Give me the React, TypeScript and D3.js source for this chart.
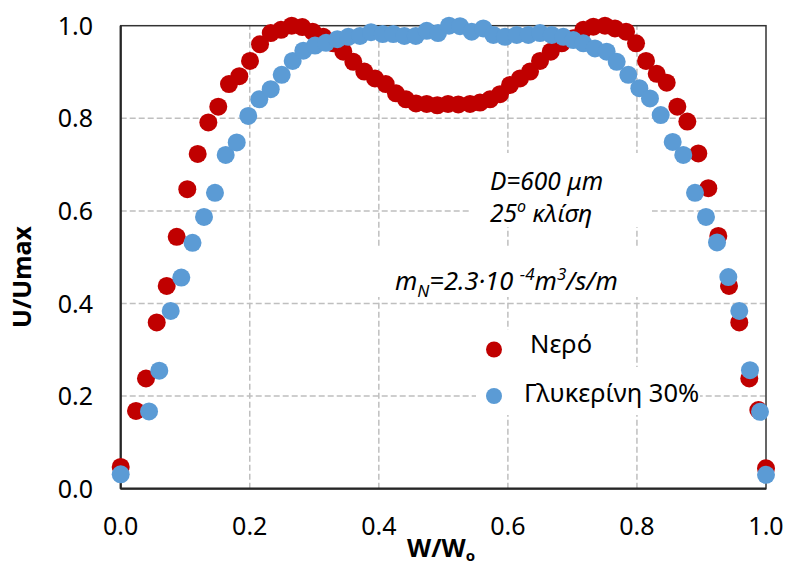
import React from "react";
import * as d3 from "d3";

const neroX = [0.000, 0.0237, 0.0392, 0.0558, 0.0713, 0.0868, 0.1032, 0.1193, 0.1358, 0.1512, 0.1678, 0.1838, 0.2004, 0.2159, 0.2325, 0.2484, 0.2650, 0.2814, 0.2975, 0.3140, 0.3295, 0.3450, 0.3605, 0.3775, 0.3941, 0.4107, 0.4266, 0.4421, 0.4576, 0.4742, 0.4906, 0.5072, 0.5232, 0.5413, 0.5568, 0.5723, 0.5878, 0.6033, 0.6188, 0.6343, 0.6498, 0.6664, 0.6834, 0.7014, 0.7169, 0.7324, 0.7505, 0.7660, 0.7831, 0.7986, 0.8141, 0.8306, 0.8461, 0.8626, 0.8781, 0.8951, 0.9106, 0.9261, 0.9427, 0.9586, 0.9741, 0.9881, 1.000];
const neroY = [0.047, 0.168, 0.238, 0.359, 0.438, 0.544, 0.647, 0.723, 0.791, 0.825, 0.874, 0.891, 0.924, 0.960, 0.984, 0.991, 1.000, 0.997, 0.987, 0.976, 0.962, 0.944, 0.922, 0.901, 0.886, 0.874, 0.854, 0.841, 0.832, 0.831, 0.828, 0.831, 0.830, 0.831, 0.834, 0.841, 0.852, 0.872, 0.886, 0.901, 0.924, 0.944, 0.962, 0.973, 0.991, 0.998, 1.000, 0.994, 0.987, 0.962, 0.924, 0.896, 0.877, 0.825, 0.793, 0.724, 0.649, 0.546, 0.438, 0.359, 0.238, 0.170, 0.044];

const glycX = [0.000, 0.0439, 0.0598, 0.0775, 0.0939, 0.1113, 0.1291, 0.1461, 0.1627, 0.1798, 0.1977, 0.2148, 0.2325, 0.2495, 0.2665, 0.2830, 0.3011, 0.3182, 0.3357, 0.3527, 0.3708, 0.3879, 0.4060, 0.4224, 0.4395, 0.4572, 0.4742, 0.4917, 0.5088, 0.5258, 0.5439, 0.5619, 0.5774, 0.5955, 0.6137, 0.6317, 0.6498, 0.6679, 0.6859, 0.7014, 0.7169, 0.7350, 0.7531, 0.7686, 0.7866, 0.8037, 0.8202, 0.8368, 0.8554, 0.8718, 0.8900, 0.9070, 0.9241, 0.9416, 0.9586, 0.9752, 0.9907, 1.000];
const glycY = [0.031, 0.167, 0.255, 0.384, 0.456, 0.531, 0.587, 0.639, 0.721, 0.748, 0.805, 0.841, 0.863, 0.894, 0.924, 0.946, 0.957, 0.963, 0.971, 0.976, 0.978, 0.986, 0.982, 0.982, 0.978, 0.978, 0.989, 0.984, 1.000, 0.999, 0.987, 0.994, 0.980, 0.976, 0.980, 0.980, 0.984, 0.980, 0.976, 0.969, 0.962, 0.951, 0.944, 0.922, 0.894, 0.865, 0.843, 0.807, 0.749, 0.721, 0.639, 0.587, 0.532, 0.457, 0.384, 0.256, 0.166, 0.030];

const xTicks = [0, 0.2, 0.4, 0.6, 0.8, 1.0];
const yTicks = [0, 0.2, 0.4, 0.6, 0.8, 1.0];
const seriesNames = ["Νερό", "Γλυκερίνη 30%"];
const seriesColors = ["#C00000", "#5B9BD5"];

const FONT = "'Noto Sans', 'Open Sans', sans-serif";

export default function App() {
  const x = d3.scaleLinear().domain([0, 1]).range([120.7, 766]);
  const y = d3.scaleLinear().domain([0, 1]).range([488.7, 25.7]);
  const fmt = d3.format(".1f");
  const series = [
    { name: seriesNames[0], color: seriesColors[0], xs: neroX, ys: neroY },
    { name: seriesNames[1], color: seriesColors[1], xs: glycX, ys: glycY },
  ];
  const gridX = xTicks.filter((t) => t > 0 && t < 1);
  const gridY = yTicks.filter((t) => t > 0 && t < 1);
  const r = 9;
  return (
    <svg width={788} height={565} style={{ position: "absolute", left: 0, top: 0, background: "#fff" }} fontFamily={FONT}>
      <rect x={0} y={0} width={788} height={565} fill="#fff" />
      {/* gridlines */}
      {gridY.map((t) => (
        <line key={"gy" + t} x1={x(0)} x2={x(1)} y1={y(t)} y2={y(t)} stroke="#BFBFBF" strokeWidth={1.5} strokeDasharray="6,3" />
      ))}
      {gridX.map((t) => (
        <line key={"gx" + t} x1={x(t)} x2={x(t)} y1={y(0)} y2={y(1)} stroke="#BFBFBF" strokeWidth={1.5} strokeDasharray="6,3" />
      ))}
      {/* text boxes masking grid */}
      <rect x={470} y={153} width={182} height={74} fill="#fff" />
      <rect x={372} y={247} width={318} height={50} fill="#fff" />
      <rect x={476} y={330} width={124} height={37} fill="#fff" />
      <rect x={476} y={367} width={224} height={48} fill="#fff" />
      {/* plot border */}
      <rect x={x(0)} y={y(1)} width={x(1) - x(0)} height={y(0) - y(1)} fill="none" stroke="#333" strokeWidth={1.5} />
      <line x1={x(0)} x2={x(0)} y1={y(0)} y2={y(1)} stroke="#262626" strokeWidth={2.2} />
      <line x1={x(0)} x2={x(1)} y1={y(0)} y2={y(0)} stroke="#262626" strokeWidth={2.2} />
      {/* tick labels */}
      {yTicks.map((t) => (
        <text key={"yl" + t} x={93} y={y(t)} dy="0.36em" textAnchor="end" fontSize={25} fill="#000">
          {fmt(t)}
        </text>
      ))}
      {xTicks.map((t) => (
        <text key={"xl" + t} x={x(t)} y={535} textAnchor="middle" fontSize={25} fill="#000">
          {fmt(t)}
        </text>
      ))}
      {/* axis titles */}
      <text transform="translate(31,277) rotate(-90)" textAnchor="middle" fontSize={25} fontWeight="bold" fill="#000">
        U/Umax
      </text>
      <text x={407} y={557} fontSize={25} fontWeight="bold" fill="#000">
        W/W<tspan fontSize={15} dy={4}>o</tspan>
      </text>
      {/* data */}
      {series.map((s) => (
        <g key={s.name}>
          {s.xs.map((xv, i) => (
            <circle key={i} cx={x(xv)} cy={y(s.ys[i])} r={r} fill={s.color} />
          ))}
        </g>
      ))}
      {/* annotations */}
      <text x={490} y={190} fontSize={24.5} fontStyle="italic" fill="#000">D=600 μm</text>
      <text x={490} y={222} fontSize={24.5} fontStyle="italic" fill="#000">
        25<tspan fontSize={16} dy={-10}>o</tspan>
        <tspan dy={10}>{"  κλίση"}</tspan>
      </text>
      <text x={395} y={290} fontSize={25.5} fontStyle="italic" fill="#000">
        m<tspan fontSize={17} dy={7}>N</tspan>
        <tspan dy={-7}>=2.3·10 </tspan>
        <tspan fontSize={17} dy={-10}>-4</tspan>
        <tspan dy={10}>m</tspan>
        <tspan fontSize={17} dy={-10}>3</tspan>
        <tspan dy={10}>/s/m</tspan>
      </text>
      {/* legend */}
      {series.map((s, i) => (
        <g key={"lg" + i}>
          <circle cx={494} cy={349.5 + i * 46.5} r={8} fill={s.color} />
          <text x={i === 0 ? 530 : 524} y={353 + i * 49} fontSize={25.5} fill="#000">{s.name}</text>
        </g>
      ))}
    </svg>
  );
}
